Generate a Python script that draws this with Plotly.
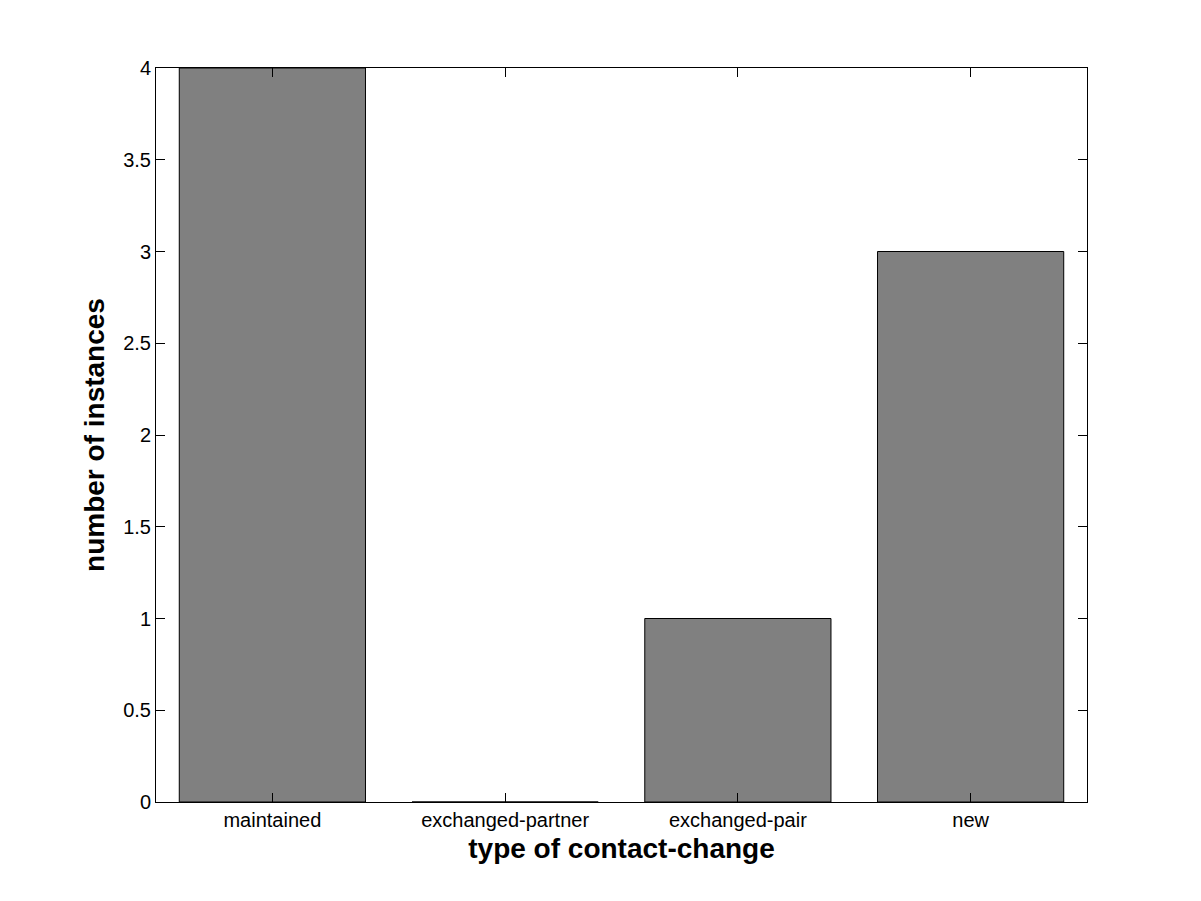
import plotly.graph_objects as go

categories = ["maintained", "exchanged-partner", "exchanged-pair", "new"]
counts = [4, 0, 1, 3]
y_ticks = [0, 0.5, 1, 1.5, 2, 2.5, 3, 3.5, 4]
y_tick_labels = ["0", "0.5", "1", "1.5", "2", "2.5", "3", "3.5", "4"]

fig = go.Figure()
fig.add_trace(go.Bar(
    x=categories, y=counts, width=0.8,
    marker=dict(color="#808080", line=dict(color="black", width=1)),
))

font_family = "Liberation Sans, Arial, sans-serif"
fig.update_layout(
    width=1201, height=901,
    margin=dict(l=148, r=122, t=60, b=107),
    paper_bgcolor="white", plot_bgcolor="white",
    showlegend=False,
    font=dict(family=font_family, size=20, color="black"),
    bargap=0.2,
)
fig.update_xaxes(
    type="category", range=[-0.5, 3.5],
    showline=True, linecolor="black", linewidth=1, mirror="ticks",
    ticks="inside", ticklen=9, tickcolor="black",
    showgrid=False, zeroline=False,
    tickfont=dict(size=20),
    title=dict(text="<b>type of contact-change</b>", font=dict(size=28), standoff=8),
)
fig.update_yaxes(
    range=[0, 4], tickvals=y_ticks, ticktext=y_tick_labels,
    showline=True, linecolor="black", linewidth=1, mirror="ticks",
    ticks="inside", ticklen=9, tickcolor="black",
    showgrid=False, zeroline=False,
    tickfont=dict(size=20),
    title=dict(text="<b>number of instances</b>", font=dict(size=28), standoff=10),
)
fig.write_html("out.html")
